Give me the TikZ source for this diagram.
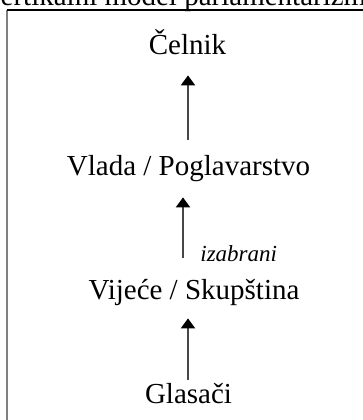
\documentclass[tikz,border=0pt]{standalone}
\usepackage{fontspec}
\setmainfont{Liberation Serif}
\usepackage{tikz}
\usetikzlibrary{arrows.meta}

\tikzset{
  level/.style={inner sep=0pt, text height=10pt, text depth=3pt, anchor=base, font=\fontsize{14.5}{17}\selectfont},
  up/.style={draw=black!72, line width=1.2pt, -{Triangle[width=7pt,length=5pt,color=black]}}
}

\begin{document}
\begin{tikzpicture}[x=0.5pt,y=0.5pt,yscale=-1,xscale=1]
\useasboundingbox (0,0) rectangle (363,420);
\clip (0,0) rectangle (363,420);

%Frame (cut off at right and bottom)
\draw [color=black!50, line width=1pt] (7.5,10) -- (7.5,430) ;
\draw [color=black, line width=0.6pt] (7,10) -- (370,10) ;

% Text Node
\node [level] (caption) at (181,5) {Vertikalni model parlamentarizma};
% Text Node
\node [level] (celnik) at (187.5,54) {Čelnik};
% Text Node
\node [level] (vlada) at (188.5,175) {Vlada / Poglavarstvo};
% Text Node
\node [level] (vijece) at (194,299) {Vijeće / Skupština};
% Text Node
\node [level] (glasaci) at (188.5,403) {Glasači};
% Text Node
\node [anchor=base west, inner sep=0pt, font=\fontsize{11.5}{14}\selectfont\itshape] (izabrani) at (200,261) {izabrani};

%Arrows
\coordinate (axA) at (188,0);
\coordinate (axB) at (183,0);
\draw [up, shorten <=7.5pt, shorten >=7.5pt] (vlada.north -| axA) -- (celnik.south -| axA) ;
\draw [up, shorten <=10.5pt, shorten >=8pt] (vijece.north -| axB) -- (vlada.south -| axB) ;
\draw [up, shorten <=1.5pt, shorten >=6.5pt] (glasaci.north -| axA) -- (vijece.south -| axA) ;

\end{tikzpicture}
\end{document}
